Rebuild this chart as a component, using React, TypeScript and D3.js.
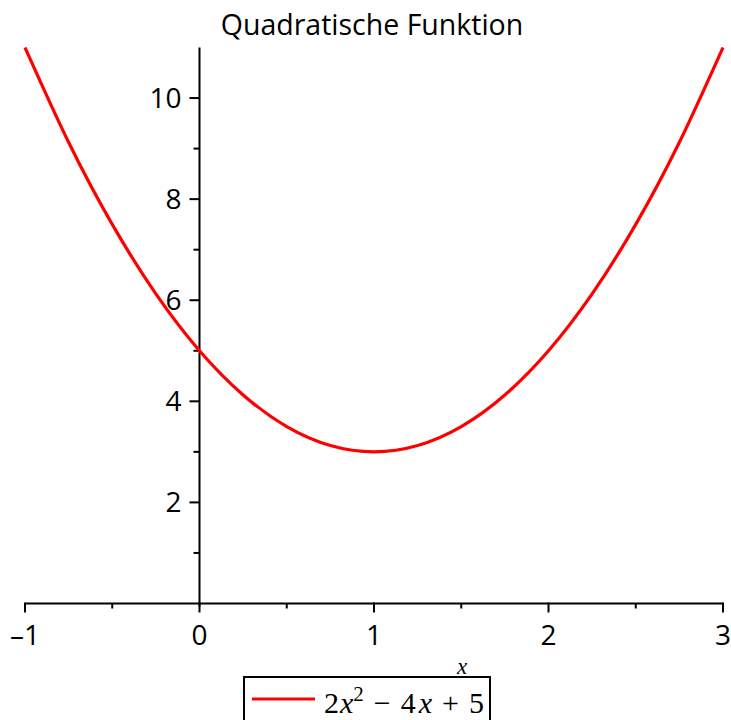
import React from "react";
import * as d3 from "d3";

// Sampled points of the plotted function
const xValues = [-1, -0.75, -0.5, -0.25, 0, 0.25, 0.5, 0.75, 1, 1.25, 1.5, 1.75, 2, 2.25, 2.5, 2.75, 3];
const yValues = [11, 9.125, 7.5, 6.125, 5, 4.125, 3.5, 3.125, 3, 3.125, 3.5, 4.125, 5, 6.125, 7.5, 9.125, 11];

const xMajorTicks = [-1, 0, 1, 2, 3];
const xMinorTicks = [-0.5, 0.5, 1.5, 2.5];
const yMajorTicks = [2, 4, 6, 8, 10];
const yMinorTicks = [1, 3, 5, 7, 9];

const title = "Quadratische Funktion";

const W = 731;
const H = 720;
const sans = "'Open Sans', 'DejaVu Sans', sans-serif";
const serif = "'Liberation Serif', 'DejaVu Serif', serif";

export default function App() {
  const x = d3.scaleLinear().domain([-1, 3]).range([25, 723]);
  const y = d3.scaleLinear().domain([0, 11]).range([603.5, 47.5]);

  const pts: [number, number][] = xValues.map((v, i) => [v, yValues[i]]);
  const line = d3
    .line<[number, number]>()
    .x((d) => x(d[0]))
    .y((d) => y(d[1]))
    .curve(d3.curveNatural);

  const x0 = x(0);
  const y0 = y(0);

  return (
    <svg
      width={W}
      height={H}
      style={{ position: "absolute", left: 0, top: 0, background: "#fff" }}
    >
      <text x={372} y={35} textAnchor="middle" fontFamily={sans} fontSize={28.5} fill="#000">
        {title}
      </text>

      {/* axes */}
      <line x1={x(-1)} x2={x(3)} y1={y0} y2={y0} stroke="#000" strokeWidth={2} />
      <line x1={x0} x2={x0} y1={y(11)} y2={y0 + 3} stroke="#000" strokeWidth={2} />

      {xMajorTicks.map((t) => (
        <g key={"xm" + t}>
          <line x1={x(t)} x2={x(t)} y1={y0 - 1} y2={y0 + 9} stroke="#000" strokeWidth={2} />
          <text x={x(t)} y={645} textAnchor="middle" fontFamily={sans} fontSize={28} fill="#000">
            {t < 0 ? "\u2013" + Math.abs(t) : String(t)}
          </text>
        </g>
      ))}
      {xMinorTicks.map((t) => (
        <line key={"xn" + t} x1={x(t)} x2={x(t)} y1={y0} y2={y0 + 5} stroke="#000" strokeWidth={2} />
      ))}

      {yMajorTicks.map((t) => (
        <g key={"ym" + t}>
          <line x1={x0 - 10} x2={x0} y1={y(t)} y2={y(t)} stroke="#000" strokeWidth={2} />
          <text
            x={x0 - 18}
            y={y(t)}
            dy="0.36em"
            textAnchor="end"
            fontFamily={sans}
            fontSize={28}
            fill="#000"
          >
            {String(t)}
          </text>
        </g>
      ))}
      {yMinorTicks.map((t) => (
        <line key={"yn" + t} x1={x0 - 6} x2={x0} y1={y(t)} y2={y(t)} stroke="#000" strokeWidth={2} />
      ))}

      {/* curve */}
      <path d={line(pts) ?? ""} fill="none" stroke="#ff0000" strokeWidth={3.2} />

      {/* axis label */}
      <text x={462} y={674} textAnchor="middle" fontFamily={serif} fontStyle="italic" fontSize={23} fill="#000">
        x
      </text>

      {/* legend */}
      <rect x={244} y={677} width={246} height={60} fill="#fff" stroke="#000" strokeWidth={2} />
      <line x1={252} x2={315} y1={699} y2={699} stroke="#ff0000" strokeWidth={3.2} />
      <text x={324} y={713} fontFamily={serif} fontSize={30} fill="#000">
        <tspan>2</tspan>
        <tspan fontStyle="italic" dx={1}>x</tspan>
        <tspan dy={-12} fontSize={21}>2</tspan>
        <tspan dy={12} dx={10}>{"\u2212"}</tspan>
        <tspan dx={10}>4</tspan>
        <tspan fontStyle="italic" dx={3}>x</tspan>
        <tspan dx={10}>+</tspan>
        <tspan dx={10}>5</tspan>
      </text>
    </svg>
  );
}
